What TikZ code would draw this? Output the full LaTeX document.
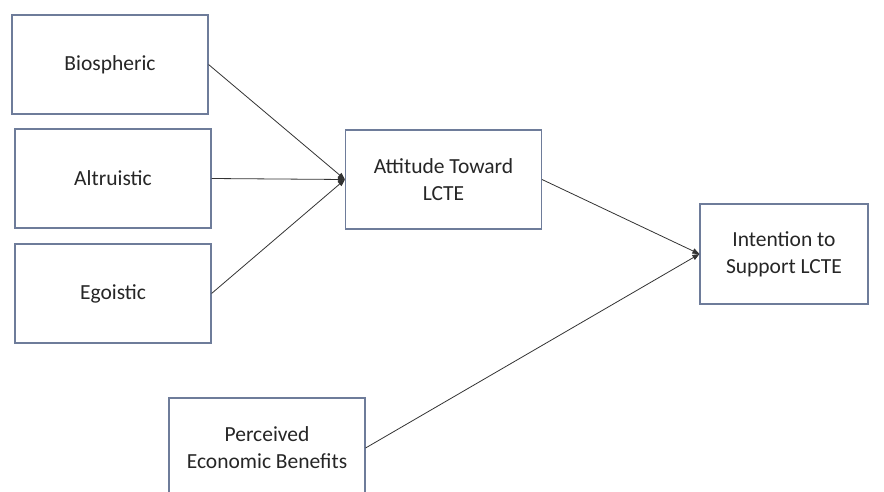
\documentclass[tikz,border=0pt]{standalone}
\usepackage{fontspec}
\setmainfont{Carlito}
\usetikzlibrary{arrows.meta}
\definecolor{boxline}{HTML}{6E7C9A}
\definecolor{arrline}{HTML}{333333}
\begin{document}
\begin{tikzpicture}[x=1pt,y=-1pt,
  box/.style={draw=boxline, line width=1.1pt, fill=white, minimum width=196pt, minimum height=99pt,
    inner sep=0pt, align=center, font=\fontsize{21.5}{27}\selectfont, text=black!85},
  conn/.style={draw=arrline, line width=0.8pt, -{Triangle[length=7pt,width=5.5pt]}}]
\useasboundingbox (0,0) rectangle (884,491);
\clip (0,0) rectangle (884,491);
\node[box] (bio) at (110,64.5) {Biospheric};
\node[box] (alt) at (113,178.5) {Altruistic};
\node[box] (ego) at (113,293.5) {Egoistic};
\node[box] (att) at (443.5,179.5) {Attitude Toward\\LCTE};
\node[box, minimum width=168pt, minimum height=100pt] (int) at (784,254) {Intention to\\Support LCTE};
\node[box, minimum height=100pt] (per) at (267,448) {Perceived\\Economic Benefits};
\draw[conn] (bio.east) -- (att.west);
\draw[conn] (alt.east) -- (att.west);
\draw[conn] (ego.east) -- (att.west);
\draw[conn] (att.east) -- (int.west);
\draw[conn] (per.east) -- (int.west);
\end{tikzpicture}
\end{document}
